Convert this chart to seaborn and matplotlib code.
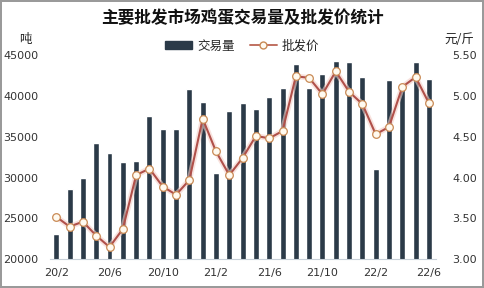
import numpy as np
import pandas as pd
import matplotlib.pyplot as plt
import seaborn as sns
from matplotlib.patches import Patch
from matplotlib.lines import Line2D

# monthly data 2020/2 - 2022/6
months = [f"{y}/{m}" for y, m in
          [(20, m) for m in range(2, 13)] + [(21, m) for m in range(1, 13)] + [(22, m) for m in range(1, 7)]]
volume = [23100, 28600, 30000, 34200, 33000, 31900, 32000, 37500, 36000, 35900,
          40800, 39300, 30500, 38200, 39100, 38450, 39800, 41000, 43950, 41000,
          42700, 44300, 44200, 42350, 31000, 42000, 41000, 44200, 42100]
price = [3.52, 3.40, 3.46, 3.29, 3.15, 3.37, 4.03, 4.11, 3.89, 3.79,
         3.97, 4.72, 4.32, 4.03, 4.24, 4.51, 4.48, 4.57, 5.24, 5.22,
         5.02, 5.30, 5.05, 4.90, 4.53, 4.62, 5.11, 5.23, 4.91]

data = pd.DataFrame({"month": months, "volume": volume, "price": price, "pos": range(len(months))})

sns.set_theme(style="white")
plt.rcParams['font.family'] = ['Noto Sans CJK SC', 'DejaVu Sans']

fig = plt.figure(figsize=(4.84, 2.88), dpi=100)
fig.patch.set_edgecolor("#9a9a9a")
fig.patch.set_linewidth(1.5)
ax = fig.add_axes([0.1025, 0.0997, 0.7975, 0.7093])

# bars - trade volume
sns.barplot(x="pos", y="volume", data=data, color="#2b3a48", width=0.45, ax=ax, saturation=1)
ax.set_ylim(20000, 45000)
ax.set_xlim(-0.5, len(months) - 0.5)
ax.set_yticks(range(20000, 45001, 5000))
ax.set_xticks(range(0, len(months), 4))
ax.set_xticklabels(months[::4])
ax.set_xticks(np.arange(-0.5, len(months), 4), minor=True)
ax.tick_params(axis="x", which="major", length=0, pad=6)
ax.tick_params(axis="x", which="minor", length=4, color="#c8d0d8", width=0.8, direction="out")
ax.tick_params(axis="y", length=0, pad=8)
ax.tick_params(labelsize=8, labelcolor="#333333")
for lbl in ax.get_yticklabels() + ax.get_xticklabels():
    lbl.set_fontfamily("DejaVu Sans")
ax.set_xlabel("")
ax.set_ylabel("")
for s in ["top", "left", "right"]:
    ax.spines[s].set_visible(False)
ax.spines["bottom"].set_color("#c8d0d8")
ax.spines["bottom"].set_linewidth(0.8)

# line - wholesale price
ax2 = ax.twinx()
ax2.plot(data["pos"], data["price"], color="#f4d0c8", lw=4, alpha=0.6, zorder=1)
sns.lineplot(x="pos", y="price", data=data, ax=ax2, color="#b0504a", lw=1.5,
             marker="o", markersize=5.5, markerfacecolor="#fffaf0",
             markeredgecolor="#c98a55", markeredgewidth=0.9, zorder=3)
ax2.set_ylim(3.0, 5.5)
ax2.set_yticks([3.0, 3.5, 4.0, 4.5, 5.0, 5.5])
ax2.set_yticklabels([f"{v:.2f}" for v in [3.0, 3.5, 4.0, 4.5, 5.0, 5.5]], fontfamily="DejaVu Sans")
ax2.tick_params(axis="y", length=0, pad=12, labelsize=8, labelcolor="#333333")
ax2.set_ylabel("")
ax2.set_xlim(-0.5, len(months) - 0.5)
for s in ["top", "left", "right", "bottom"]:
    ax2.spines[s].set_visible(False)

fig.text(0.5, 0.937, "主要批发市场鸡蛋交易量及批发价统计", ha="center", va="center",
         fontsize=12, fontweight="bold", color="#111111")
fig.text(0.052, 0.862, "吨", ha="center", va="center", fontsize=9, color="#222222")
fig.text(0.95, 0.862, "元/斤", ha="center", va="center", fontsize=9, color="#222222")

handles = [Patch(color="#2b3a48"),
           Line2D([0], [0], color="#c07060", lw=1.4, marker="o", markersize=5,
                  markerfacecolor="#fffaf0", markeredgecolor="#c98a55")]
fig.legend(handles, ["交易量", "批发价"], loc="center", bbox_to_anchor=(0.5, 0.84),
           ncol=2, frameon=False, fontsize=9, handlelength=2.2, handleheight=0.6,
           columnspacing=1.2, handletextpad=0.4)

fig.savefig("out.png", dpi=100)
